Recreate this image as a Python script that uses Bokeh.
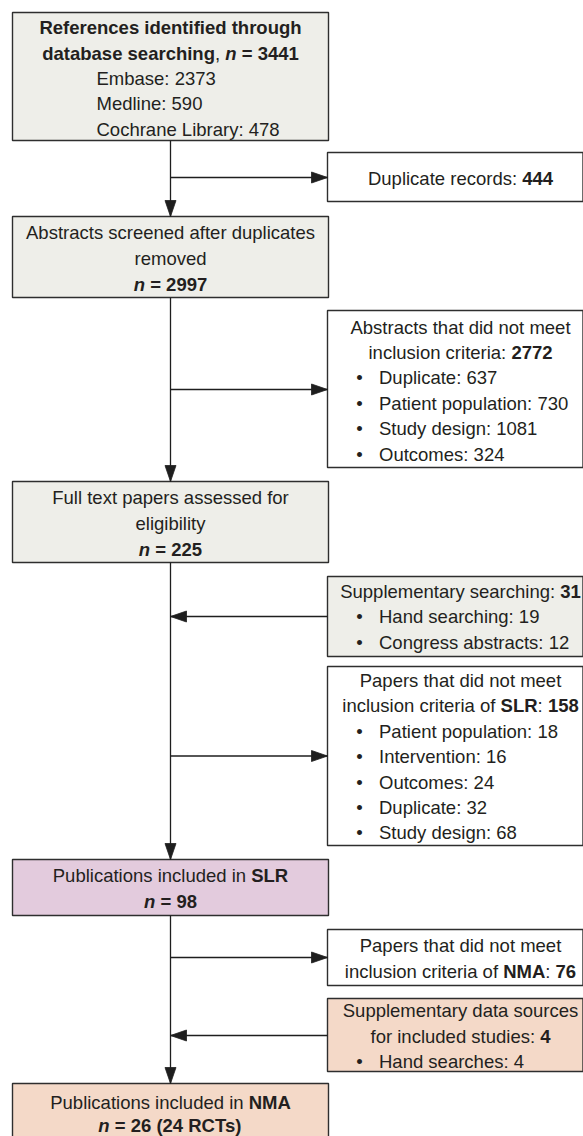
from bokeh.plotting import figure
from bokeh.models import Range1d
from bokeh.embed import file_html
from bokeh.resources import INLINE
from bokeh.core.properties import value

# ---------------- data (PRISMA counts) ----------------
db_total = 3441
db_sources = ["Embase", "Medline", "Cochrane Library"]
db_counts = [2373, 590, 478]
duplicates_removed = 444
screened = 2997
abstract_excluded = 2772
abstract_reasons = ["Duplicate", "Patient population", "Study design", "Outcomes"]
abstract_reason_counts = [637, 730, 1081, 324]
fulltext_assessed = 225
supp_search_total = 31
supp_search_sources = ["Hand searching", "Congress abstracts"]
supp_search_counts = [19, 12]
slr_excluded = 158
slr_reasons = ["Patient population", "Intervention", "Outcomes", "Duplicate", "Study design"]
slr_reason_counts = [18, 16, 24, 32, 68]
slr_included = 98
nma_excluded = 76
nma_supp_total = 4
nma_supp_sources = ["Hand searches"]
nma_supp_counts = [4]
nma_included = 26
nma_rcts = 24

# ---------------- font metrics (Arial / Liberation Sans, per 1000 em) ----------------
REG = {' ': 278, ',': 278, '.': 278, ':': 278, '=': 584, '(': 333, ')': 333, '-': 333, '\u2022': 350,
       'A': 667, 'B': 667, 'C': 722, 'D': 722, 'E': 667, 'F': 611, 'G': 778, 'H': 722, 'I': 278,
       'J': 500, 'K': 667, 'L': 556, 'M': 833, 'N': 722, 'O': 778, 'P': 667, 'Q': 778, 'R': 722,
       'S': 667, 'T': 611, 'U': 722, 'V': 667, 'W': 944, 'X': 667, 'Y': 667, 'Z': 611,
       'a': 556, 'b': 556, 'c': 500, 'd': 556, 'e': 556, 'f': 278, 'g': 556, 'h': 556, 'i': 222,
       'j': 222, 'k': 500, 'l': 222, 'm': 833, 'n': 556, 'o': 556, 'p': 556, 'q': 556, 'r': 333,
       's': 500, 't': 278, 'u': 556, 'v': 500, 'w': 722, 'x': 500, 'y': 500, 'z': 500}
BOLD = {' ': 278, ',': 278, '.': 278, ':': 333, '=': 584, '(': 333, ')': 333, '-': 333,
        'A': 722, 'B': 722, 'C': 722, 'D': 722, 'E': 667, 'F': 611, 'G': 778, 'H': 722, 'I': 278,
        'J': 556, 'K': 722, 'L': 611, 'M': 833, 'N': 722, 'O': 778, 'P': 667, 'Q': 778, 'R': 722,
        'S': 667, 'T': 611, 'U': 722, 'V': 667, 'W': 944, 'X': 667, 'Y': 667, 'Z': 611,
        'a': 556, 'b': 611, 'c': 556, 'd': 611, 'e': 556, 'f': 333, 'g': 611, 'h': 611, 'i': 278,
        'j': 278, 'k': 556, 'l': 278, 'm': 889, 'n': 611, 'o': 611, 'p': 611, 'q': 611, 'r': 389,
        's': 556, 't': 333, 'u': 611, 'v': 556, 'w': 778, 'x': 556, 'y': 556, 'z': 500}
for d in "0123456789":
    REG[d] = 556
    BOLD[d] = 556

FS = 18.5
FONT_PX = "%.1fpx" % FS
FONT = "Liberation Sans"
TXT_COLOR = "#231f20"
EDGE = "#2e2e2e"
GREY, WHITE, PURPLE, PEACH = "#eeeee9", "#ffffff", "#e3cbdd", "#f4d9c8"


def seg_width(txt, st):
    tab = REG if st == "r" else BOLD
    return sum(tab.get(ch, 556) for ch in txt) * FS / 1000.0


texts = {"r": ([], [], []), "b": ([], [], []), "bi": ([], [], [])}


def put(segs, y, x, align="center"):
    total = sum(seg_width(t, s) for t, s in segs)
    x0 = x - total / 2 if align == "center" else x
    for t, s in segs:
        stripped = t.lstrip(" ")
        lead = seg_width(t[:len(t) - len(stripped)], s)
        if stripped.strip():
            texts[s][0].append(x0 + lead)
            texts[s][1].append(y)
            texts[s][2].append(stripped.rstrip(" "))
        x0 += seg_width(t, s)


bullets = ([], [])


def put_bullet(txt, y):
    bullets[0].append(359)
    bullets[1].append(y)
    put([(txt, "r")], y, 378.5, align="left")


# ---------------- layout (page pixels) ----------------
MX = 170       # main column centre
RX = 460       # side column text centre
L, R = 12, 328
SL, SR = 327, 582.5

boxes = [
    (L, 12, R, 140, GREY),
    (SL, 152, SR, 201, WHITE),
    (L, 216, R, 297, GREY),
    (SL, 310, SR, 467, WHITE),
    (L, 481, R, 562, GREY),
    (SL, 576, SR, 656, GREY),
    (SL, 666, SR, 845, WHITE),
    (L, 859, R, 915, PURPLE),
    (SL, 929, SR, 985, WHITE),
    (SL, 998, SR, 1071, PEACH),
    (L, 1083, R, 1160, PEACH),
]

put([("References identified through", "b")], 27, MX)
put([("database searching", "b"), (", ", "r"), ("n", "bi"), (" = %d" % db_total, "b")], 53, MX)
for i, (src, c) in enumerate(zip(db_sources, db_counts)):
    put([("%s: %d" % (src, c), "r")], 77.5 + 25.5 * i, 96, align="left")

put([("Duplicate records: ", "r"), ("%d" % duplicates_removed, "b")], 177.5, RX)

put([("Abstracts screened after duplicates", "r")], 232, MX)
put([("removed", "r")], 258, MX)
put([("n", "bi"), (" = %d" % screened, "b")], 283.5, MX)

put([("Abstracts that did not meet", "r")], 326.5, RX)
put([("inclusion criteria: ", "r"), ("%d" % abstract_excluded, "b")], 351.5, RX)
for i, (rs, c) in enumerate(zip(abstract_reasons, abstract_reason_counts)):
    put_bullet("%s: %d" % (rs, c), 377 + 25.5 * i)

put([("Full text papers assessed for", "r")], 497, MX)
put([("eligibility", "r")], 522.5, MX)
put([("n", "bi"), (" = %d" % fulltext_assessed, "b")], 548.5, MX)

put([("Supplementary searching: ", "r"), ("%d" % supp_search_total, "b")], 590.5, RX)
for i, (rs, c) in enumerate(zip(supp_search_sources, supp_search_counts)):
    put_bullet("%s: %d" % (rs, c), 616 + 26 * i)

put([("Papers that did not meet", "r")], 680, RX)
put([("inclusion criteria of ", "r"), ("SLR", "b"), (": ", "r"), ("%d" % slr_excluded, "b")], 705, RX)
for i, (rs, c) in enumerate(zip(slr_reasons, slr_reason_counts)):
    put_bullet("%s: %d" % (rs, c), 730.7 + 25.4 * i)

put([("Publications included in ", "r"), ("SLR", "b")], 875, MX)
put([("n", "bi"), (" = %d" % slr_included, "b")], 900.5, MX)

put([("Papers that did not meet", "r")], 944.5, RX)
put([("inclusion criteria of ", "r"), ("NMA", "b"), (": ", "r"), ("%d" % nma_excluded, "b")], 970.5, RX)

put([("Supplementary data sources", "r")], 1010, RX)
put([("for included studies: ", "r"), ("%d" % nma_supp_total, "b")], 1036, RX)
for i, (rs, c) in enumerate(zip(nma_supp_sources, nma_supp_counts)):
    put_bullet("%s: %d" % (rs, c), 1061 + 25.5 * i)

put([("Publications included in ", "r"), ("NMA", "b")], 1101.5, MX)
put([("n", "bi"), (" = %d (%d RCTs)" % (nma_included, nma_rcts), "b")], 1125, MX)

# connectors: (x0, y0, x1, y1) with arrow head at (x1, y1)
connectors = [
    (MX, 140, MX, 216), (MX, 177, SL, 177),
    (MX, 297, MX, 481), (MX, 389, SL, 389),
    (MX, 562, MX, 859), (SL, 616, MX, 616), (MX, 755.5, SL, 755.5),
    (MX, 915, MX, 1083), (MX, 957, SL, 957), (SL, 1035, MX, 1035),
]
HL, HW = 16, 5.5

# ---------------- figure ----------------
p = figure(width=583, height=1136, output_backend="svg", toolbar_location=None,
           x_range=Range1d(0, 583), y_range=Range1d(1136, 0),
           x_axis_type=None, y_axis_type=None, min_border=0)
p.min_border_left = p.min_border_right = p.min_border_top = p.min_border_bottom = 0
p.grid.visible = False
p.outline_line_color = None
p.background_fill_color = "white"
p.border_fill_color = "white"

p.quad(left=[b[0] for b in boxes], top=[b[1] for b in boxes],
       right=[b[2] for b in boxes], bottom=[b[3] for b in boxes],
       fill_color=[b[4] for b in boxes], line_color=EDGE, line_width=1.4)

seg_x0, seg_y0, seg_x1, seg_y1, hx, hy = [], [], [], [], [], []
for x0, y0, x1, y1 in connectors:
    seg_x0.append(x0); seg_y0.append(y0); seg_x1.append(x1); seg_y1.append(y1)
    if x0 == x1:
        d = 1 if y1 > y0 else -1
        hx.append([x1, x1 - HW, x1 + HW]); hy.append([y1, y1 - d * HL, y1 - d * HL])
    else:
        d = 1 if x1 > x0 else -1
        hx.append([x1, x1 - d * HL, x1 - d * HL]); hy.append([y1, y1 - HW, y1 + HW])
p.segment(x0=seg_x0, y0=seg_y0, x1=seg_x1, y1=seg_y1, line_color="#1e1e1e", line_width=1.3)
p.patches(xs=hx, ys=hy, fill_color="#1e1e1e", line_color="#1e1e1e", line_width=0.8)

styles = {"r": "normal", "b": "bold", "bi": "bold italic"}
for st, (xs, ys, ts) in texts.items():
    if xs:
        p.text(x=xs, y=ys, text=ts, text_font=value(FONT), text_font_size=FONT_PX,
               text_font_style=styles[st], text_align="left", text_baseline="middle",
               text_color=TXT_COLOR)
p.text(x=bullets[0], y=bullets[1], text=["\u2022"] * len(bullets[0]), text_font=value(FONT),
       text_font_size=FONT_PX, text_align="center", text_baseline="middle", text_color=TXT_COLOR)

open("out.html", "w").write(file_html(p, INLINE))
